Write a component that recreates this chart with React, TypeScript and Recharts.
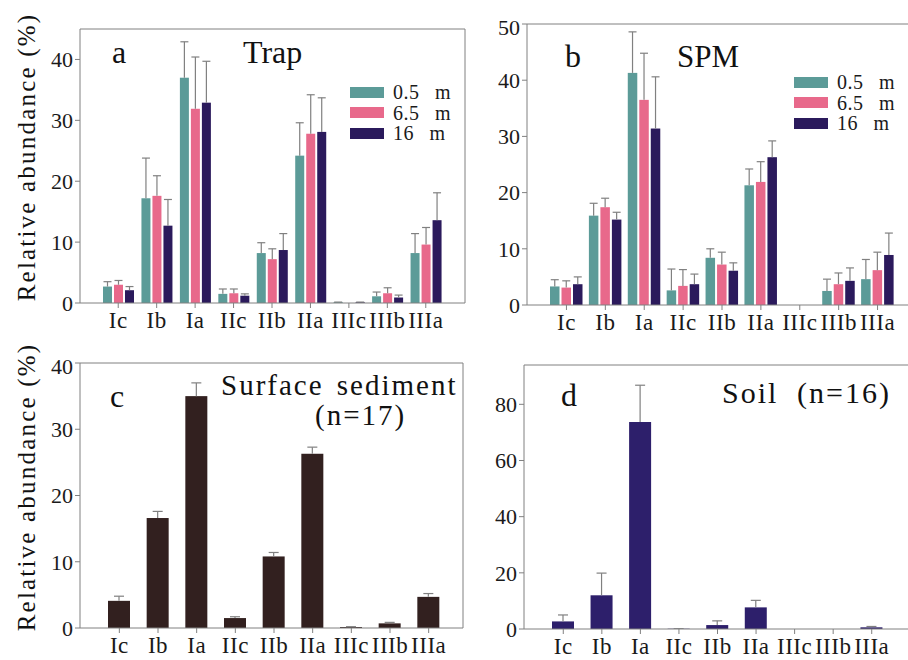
import React from 'react';
import { Bar, BarChart, Legend, XAxis, YAxis } from 'recharts';

const categories = ['Ic', 'Ib', 'Ia', 'IIc', 'IIb', 'IIa', 'IIIc', 'IIIb', 'IIIa'];

// panel a - trap
const trap05 = [2.7, 17.2, 37.0, 1.5, 8.2, 24.2, 0.15, 1.1, 8.2];
const trap05Err = [0.8, 6.6, 5.9, 0.8, 1.7, 5.4, 0, 0.7, 3.2];
const trap65 = [3.0, 17.6, 31.9, 1.6, 7.2, 27.8, 0, 1.6, 9.6];
const trap65Err = [0.7, 3.3, 8.5, 0.7, 1.7, 6.4, 0, 0.9, 2.8];
const trap16 = [2.1, 12.7, 32.9, 1.2, 8.7, 28.1, 0.15, 0.9, 13.6];
const trap16Err = [0.6, 4.3, 6.8, 0.3, 2.7, 5.6, 0, 0.4, 4.5];

// panel b - SPM
const spm05 = [3.3, 15.9, 41.3, 2.6, 8.4, 21.3, 0, 2.5, 4.6];
const spm05Err = [1.2, 2.2, 7.3, 3.8, 1.6, 2.9, 0, 2.1, 3.5];
const spm65 = [3.1, 17.4, 36.5, 3.4, 7.2, 21.9, 0, 3.7, 6.2];
const spm65Err = [1.2, 1.6, 8.3, 2.9, 2.2, 3.6, 0, 2.0, 3.2];
const spm16 = [3.7, 15.2, 31.4, 3.7, 6.1, 26.3, 0, 4.3, 8.9];
const spm16Err = [1.3, 1.3, 9.2, 1.8, 1.4, 2.9, 0, 2.3, 3.9];

// panel c - surface sediment
const sediment = [4.1, 16.6, 35.0, 1.5, 10.8, 26.3, 0.15, 0.7, 4.7];
const sedimentErr = [0.7, 1.0, 2.0, 0.2, 0.6, 1.0, 0.05, 0.15, 0.5];

// panel d - soil
const soil = [2.7, 12.0, 73.7, 0.1, 1.4, 7.7, 0, 0, 0.6];
const soilErr = [2.3, 7.9, 13.1, 0, 1.5, 2.5, 0, 0, 0.3];

const depthNames = ['0.5 m', '6.5 m', '16 m'];
const ticksA = [0, 10, 20, 30, 40];
const ticksB = [0, 10, 20, 30, 40, 50];
const ticksC = [0, 10, 20, 30, 40];
const ticksD = [0, 20, 40, 60, 80];

const TEAL = '#5c9b98';
const PINK = '#e8698b';
const NAVY = '#2b1a5c';
const BROWN = '#32201f';
const SOIL = '#2d1f6b';
const GREY = '#808080';
const FONT = '"Liberation Serif", "Times New Roman", serif';

const dataA = categories.map((c, i) => ({ cat: c, v1: trap05[i], e1: trap05Err[i], v2: trap65[i], e2: trap65Err[i], v3: trap16[i], e3: trap16Err[i] }));
const dataB = categories.map((c, i) => ({ cat: c, v1: spm05[i], e1: spm05Err[i], v2: spm65[i], e2: spm65Err[i], v3: spm16[i], e3: spm16Err[i] }));
const dataC = categories.map((c, i) => ({ cat: c, v1: sediment[i], e1: sedimentErr[i] }));
const dataD = categories.map((c, i) => ({ cat: c, v1: soil[i], e1: soilErr[i] }));

interface Series { key: string; errKey: string; name: string; color: string }

const depthSeries: Series[] = [
  { key: 'v1', errKey: 'e1', name: depthNames[0], color: TEAL },
  { key: 'v2', errKey: 'e2', name: depthNames[1], color: PINK },
  { key: 'v3', errKey: 'e3', name: depthNames[2], color: NAVY },
];

// bar + upper whisker only (the lower half sits behind the bar in the original)
const withError = (valueKey: string, errKey: string, cap: number) => (props: any) => {
  const { x, y, width, height, fill, payload } = props;
  const v = payload[valueKey];
  const e = payload[errKey];
  const unit = v > 0 ? height / v : 0;
  const top = y - e * unit;
  const cx = x + width / 2;
  return (
    <g>
      <rect x={x} y={y} width={width} height={Math.max(height, 0)} fill={fill} />
      {unit > 0 && (
        <>
          {e > 0 && <line x1={cx} x2={cx} y1={y} y2={top} stroke={GREY} strokeWidth={1.2} />}
          <line x1={cx - cap} x2={cx + cap} y1={top} y2={top} stroke={GREY} strokeWidth={1.2} />
        </>
      )}
    </g>
  );
};

interface PanelProps {
  box: { l: number; t: number; r: number; b: number };
  data: any[];
  series: Series[];
  domain: [number, number];
  ticks: number[];
  pad: { left: number; right: number };
  barSize: number;
  barGap: number;
  cap: number;
  legendAt?: { x: number; y: number };
}

const xTickStyle = { fontSize: 23, fill: '#1a1a1a', fontFamily: FONT, letterSpacing: 0.5 };
const yTickStyle = { fontSize: 22, fill: '#1a1a1a', fontFamily: FONT };

const Panel = ({ box, data, series, domain, ticks, pad, barSize, barGap, cap, legendAt }: PanelProps) => {
  // every axis takes 1px, so margins are one less
  const ml = 60, mt = 10, mr = 10, mb = 40;
  const w = box.r - box.l + ml + mr;
  const h = box.b - box.t + mt + mb;
  const ox = box.l - ml;
  const oy = box.t - mt;
  return (
    <div style={{ position: 'absolute', left: ox, top: oy }}>
      <BarChart width={w} height={h} data={data} margin={{ top: mt - 1, right: mr - 1, bottom: mb - 1, left: ml - 1 }} barSize={barSize} barGap={barGap}>
        <XAxis dataKey="cat" height={1} padding={pad} interval={0} tickSize={5} tickMargin={4} stroke={GREY} tick={xTickStyle} />
        <XAxis xAxisId="top" dataKey="cat" orientation="top" height={1} padding={pad} tick={false} tickLine={false} stroke={GREY} />
        <YAxis width={1} type="number" domain={domain} ticks={ticks} allowDataOverflow tickSize={5} tickMargin={2} stroke={GREY} tick={yTickStyle} />
        <YAxis yAxisId="right" orientation="right" width={1} type="number" domain={domain} tick={false} tickLine={false} stroke={GREY} />
        {legendAt && (
          <Legend
            layout="vertical"
            align="center"
            verticalAlign="middle"
            width={130}
            wrapperStyle={{ left: legendAt.x - ox, top: legendAt.y - oy, width: 130 }}
            content={() => (
              <div>
                {series.map((s) => (
                  <div key={s.key} style={{ display: 'flex', alignItems: 'center', height: 20.5 }}>
                    <span style={{ display: 'inline-block', width: 34, height: 11, background: s.color, marginRight: 9 }} />
                    <span style={{ fontFamily: FONT, fontSize: 20, color: '#1a1a1a', wordSpacing: 10, letterSpacing: 0.5, lineHeight: '20px' }}>{s.name}</span>
                  </div>
                ))}
              </div>
            )}
          />
        )}
        {series.map((s) => (
          <Bar key={s.key} dataKey={s.key} name={s.name} fill={s.color} isAnimationActive={false} shape={withError(s.key, s.errKey, cap)} />
        ))}
      </BarChart>
    </div>
  );
};

const titleStyle = { fontFamily: FONT, fill: '#111' };

export default function App() {
  return (
    <div style={{ position: 'absolute', left: 0, top: 0, width: 908, height: 660, overflow: 'hidden', background: '#fff' }}>
      <Panel box={{ l: 80, t: 29, r: 465, b: 303 }} data={dataA} series={depthSeries} domain={[0, 45]} ticks={ticksA}
        pad={{ left: 19, right: 20 }} barSize={9} barGap={2} cap={4} legendAt={{ x: 350, y: 82 }} />
      <Panel box={{ l: 527, t: 24, r: 917, b: 305 }} data={dataB} series={depthSeries} domain={[0, 50]} ticks={ticksB}
        pad={{ left: 20, right: 20 }} barSize={9.5} barGap={2} cap={4} legendAt={{ x: 794, y: 72 }} />
      <Panel box={{ l: 80, t: 363, r: 463, b: 628 }} data={dataC} series={[{ key: 'v1', errKey: 'e1', name: 'Surface sediment', color: BROWN }]}
        domain={[0, 40]} ticks={ticksC} pad={{ left: 20, right: 15 }} barSize={22} barGap={0} cap={5} />
      <Panel box={{ l: 524, t: 365, r: 911, b: 629 }} data={dataD} series={[{ key: 'v1', errKey: 'e1', name: 'Soil', color: SOIL }]}
        domain={[0, 94]} ticks={ticksD} pad={{ left: 20, right: 20 }} barSize={22} barGap={0} cap={5} />

      <svg width={908} height={660} style={{ position: 'absolute', left: 0, top: 0, pointerEvents: 'none' }}>
        <text x={35} y={157} transform="rotate(-90, 35, 157)" textAnchor="middle" fontSize={25} letterSpacing={2.2} style={titleStyle}>Relative abundance (%)</text>
        <text x={35} y={487} transform="rotate(-90, 35, 487)" textAnchor="middle" fontSize={25} letterSpacing={2.2} style={titleStyle}>Relative abundance (%)</text>

        <text x={112} y={63} fontSize={32} style={titleStyle}>a</text>
        <text x={243} y={63} fontSize={32} style={titleStyle}>Trap</text>
        <text x={565} y={67} fontSize={32} style={titleStyle}>b</text>
        <text x={677} y={67} fontSize={31} style={titleStyle}>SPM</text>

        <text x={110} y={407} fontSize={32} style={titleStyle}>c</text>
        <text x={221} y={395} fontSize={29} letterSpacing={2} wordSpacing={4} style={titleStyle}>Surface sediment</text>
        <text x={315} y={425} fontSize={29} letterSpacing={2} style={titleStyle}>(n=17)</text>

        <text x={561} y={406} fontSize={32} style={titleStyle}>d</text>
        <text x={722} y={403} fontSize={30} letterSpacing={2} style={titleStyle}>Soil</text>
        <text x={797} y={403} fontSize={30} letterSpacing={2} style={titleStyle}>(n=16)</text>
      </svg>
    </div>
  );
}
